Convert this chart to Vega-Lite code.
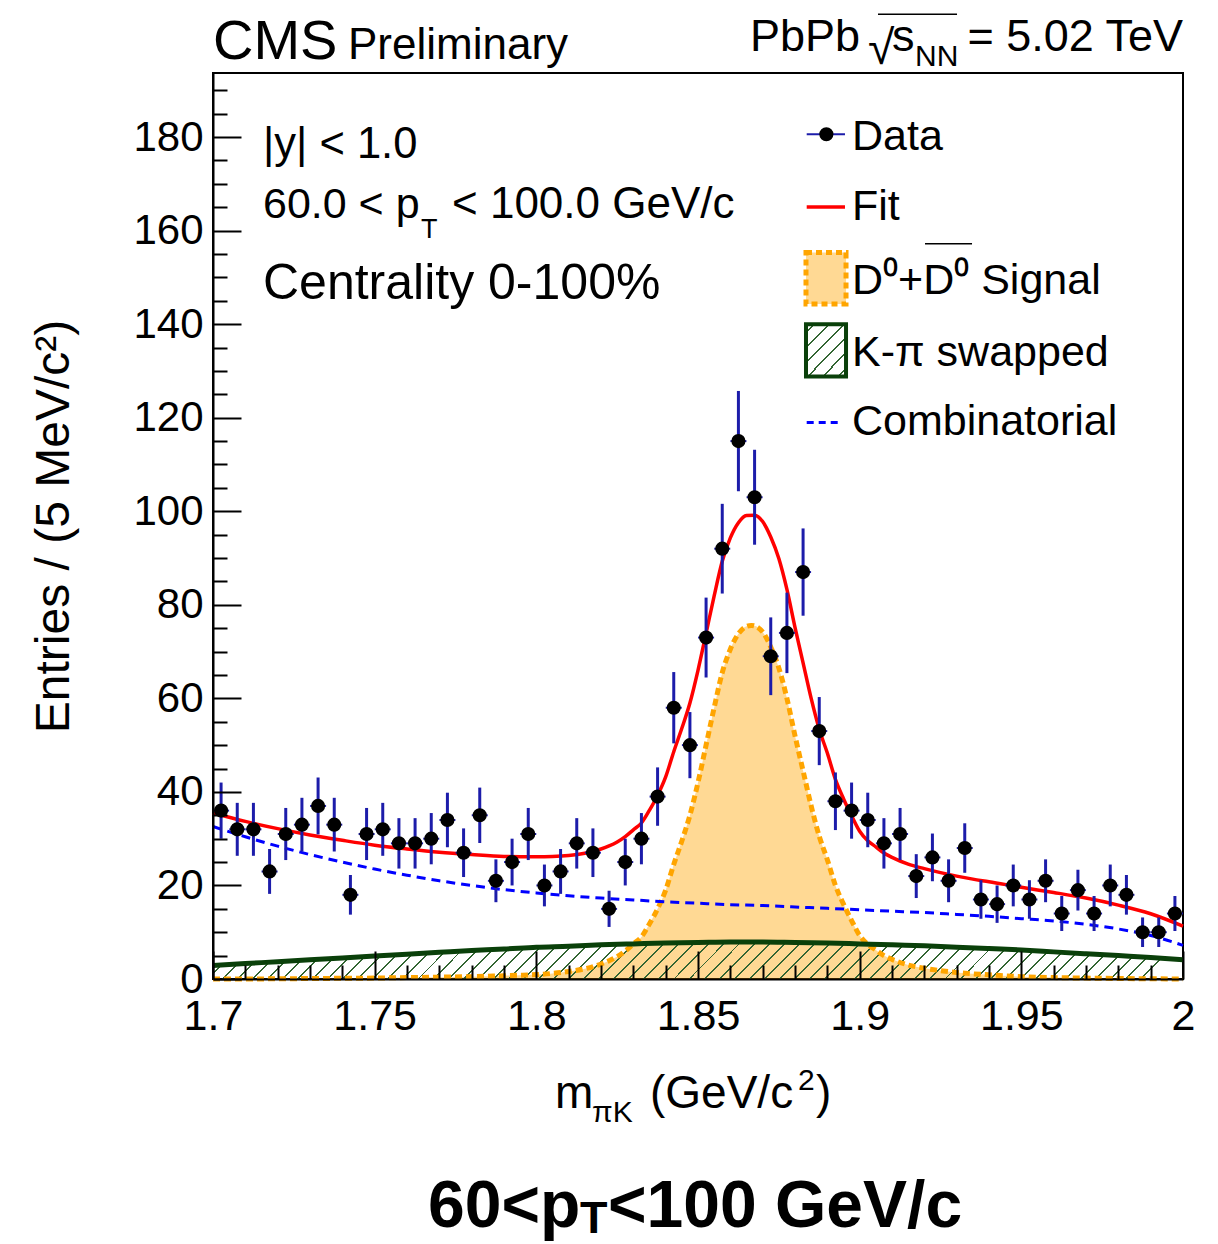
{
"$schema": "https://vega.github.io/schema/vega-lite/v6.json",
"width": 970, "height": 906,
"autosize": "none",
"padding": {"left": 213, "top": 73, "right": 35, "bottom": 265},
"background": "white",
"config": {"view": {"stroke": "black", "strokeWidth": 2}, "font": "Liberation Sans", "text": {"font": "Liberation Sans", "color": "black"}},
"resolve": {"axis": {"x": "independent", "y": "independent"}},
"datasets": {
"pts": [
{"m":1.7025,"n":36,"lo":30,"hi":42},{"m":1.7075,"n":32,"lo":26.34,"hi":37.66},{"m":1.7125,"n":32,"lo":26.34,"hi":37.66},{"m":1.7175,"n":23,"lo":18.2,"hi":27.8},{"m":1.7225,"n":31,"lo":25.43,"hi":36.57},{"m":1.7275,"n":33,"lo":27.26,"hi":38.74},{"m":1.7325,"n":37,"lo":30.92,"hi":43.08},{"m":1.7375,"n":33,"lo":27.26,"hi":38.74},{"m":1.7425,"n":18,"lo":13.76,"hi":22.24},{"m":1.7475,"n":31,"lo":25.43,"hi":36.57},
{"m":1.7525,"n":32,"lo":26.34,"hi":37.66},{"m":1.7575,"n":29,"lo":23.61,"hi":34.39},{"m":1.7625,"n":29,"lo":23.61,"hi":34.39},{"m":1.7675,"n":30,"lo":24.52,"hi":35.48},{"m":1.7725,"n":34,"lo":28.17,"hi":39.83},{"m":1.7775,"n":27,"lo":21.8,"hi":32.2},{"m":1.7825,"n":35,"lo":29.08,"hi":40.92},{"m":1.7875,"n":21,"lo":16.42,"hi":25.58},{"m":1.7925,"n":25,"lo":20,"hi":30},{"m":1.7975,"n":31,"lo":25.43,"hi":36.57},
{"m":1.8025,"n":20,"lo":15.53,"hi":24.47},{"m":1.8075,"n":23,"lo":18.2,"hi":27.8},{"m":1.8125,"n":29,"lo":23.61,"hi":34.39},{"m":1.8175,"n":27,"lo":21.8,"hi":32.2},{"m":1.8225,"n":15,"lo":11.13,"hi":18.87},{"m":1.8275,"n":25,"lo":20,"hi":30},{"m":1.8325,"n":30,"lo":24.52,"hi":35.48},{"m":1.8375,"n":39,"lo":32.76,"hi":45.24},{"m":1.8425,"n":58,"lo":50.38,"hi":65.62},{"m":1.8475,"n":50,"lo":42.93,"hi":57.07},
{"m":1.8525,"n":73,"lo":64.46,"hi":81.54},{"m":1.8575,"n":92,"lo":82.41,"hi":101.59},{"m":1.8625,"n":115,"lo":104.28,"hi":125.72},{"m":1.8675,"n":103,"lo":92.85,"hi":113.15},{"m":1.8725,"n":69,"lo":60.69,"hi":77.31},{"m":1.8775,"n":74,"lo":65.4,"hi":82.6},{"m":1.8825,"n":87,"lo":77.67,"hi":96.33},{"m":1.8875,"n":53,"lo":45.72,"hi":60.28},{"m":1.8925,"n":38,"lo":31.84,"hi":44.16},{"m":1.8975,"n":36,"lo":30,"hi":42},
{"m":1.9025,"n":34,"lo":28.17,"hi":39.83},{"m":1.9075,"n":29,"lo":23.61,"hi":34.39},{"m":1.9125,"n":31,"lo":25.43,"hi":36.57},{"m":1.9175,"n":22,"lo":17.31,"hi":26.69},{"m":1.9225,"n":26,"lo":20.9,"hi":31.1},{"m":1.9275,"n":21,"lo":16.42,"hi":25.58},{"m":1.9325,"n":28,"lo":22.71,"hi":33.29},{"m":1.9375,"n":17,"lo":12.88,"hi":21.12},{"m":1.9425,"n":16,"lo":12,"hi":20},{"m":1.9475,"n":20,"lo":15.53,"hi":24.47},
{"m":1.9525,"n":17,"lo":12.88,"hi":21.12},{"m":1.9575,"n":21,"lo":16.42,"hi":25.58},{"m":1.9625,"n":14,"lo":10.26,"hi":17.74},{"m":1.9675,"n":19,"lo":14.64,"hi":23.36},{"m":1.9725,"n":14,"lo":10.26,"hi":17.74},{"m":1.9775,"n":20,"lo":15.53,"hi":24.47},{"m":1.9825,"n":18,"lo":13.76,"hi":22.24},{"m":1.9875,"n":10,"lo":6.84,"hi":13.16},{"m":1.9925,"n":10,"lo":6.84,"hi":13.16},{"m":1.9975,"n":14,"lo":10.26,"hi":17.74}
],
"comb": [
{"m":1.70,"v":32.6},{"m":1.71,"v":30.4},{"m":1.72,"v":28.4},{"m":1.73,"v":26.6},{"m":1.74,"v":25.0},{"m":1.75,"v":23.5},{"m":1.76,"v":22.2},{"m":1.77,"v":21.0},{"m":1.78,"v":20.0},{"m":1.79,"v":19.1},{"m":1.80,"v":18.4},{"m":1.81,"v":17.8},{"m":1.82,"v":17.3},{"m":1.83,"v":16.9},{"m":1.84,"v":16.5},{"m":1.85,"v":16.2},{"m":1.86,"v":15.9},{"m":1.87,"v":15.7},{"m":1.88,"v":15.4},{"m":1.89,"v":15.1},{"m":1.90,"v":14.8},{"m":1.91,"v":14.5},{"m":1.92,"v":14.2},{"m":1.93,"v":13.8},{"m":1.94,"v":13.4},{"m":1.95,"v":12.9},{"m":1.96,"v":12.4},{"m":1.97,"v":11.7},{"m":1.98,"v":10.7},{"m":1.99,"v":9.3},{"m":2.00,"v":7.2}
],
"swap": [
{"m":1.70,"v":2.9},{"m":1.71,"v":3.3},{"m":1.72,"v":3.7},{"m":1.73,"v":4.1},{"m":1.74,"v":4.5},{"m":1.75,"v":4.9},{"m":1.76,"v":5.3},{"m":1.77,"v":5.7},{"m":1.78,"v":6.1},{"m":1.79,"v":6.4},{"m":1.80,"v":6.8},{"m":1.81,"v":7.0},{"m":1.82,"v":7.3},{"m":1.83,"v":7.5},{"m":1.84,"v":7.7},{"m":1.85,"v":7.8},{"m":1.86,"v":7.9},{"m":1.87,"v":7.9},{"m":1.88,"v":7.8},{"m":1.89,"v":7.7},{"m":1.90,"v":7.5},{"m":1.91,"v":7.3},{"m":1.92,"v":7.1},{"m":1.93,"v":6.8},{"m":1.94,"v":6.5},{"m":1.95,"v":6.2},{"m":1.96,"v":5.8},{"m":1.97,"v":5.4},{"m":1.98,"v":5.0},{"m":1.99,"v":4.6},{"m":2.00,"v":4.1}
],
"sig": [
{"m":1.70,"v":0},{"m":1.71,"v":0},{"m":1.72,"v":0.05},{"m":1.73,"v":0.1},{"m":1.74,"v":0.15},{"m":1.75,"v":0.2},{"m":1.76,"v":0.3},{"m":1.77,"v":0.4},{"m":1.78,"v":0.5},{"m":1.79,"v":0.7},{"m":1.795,"v":0.8},{"m":1.80,"v":0.95},{"m":1.805,"v":1.2},{"m":1.81,"v":1.6},{"m":1.815,"v":2.2},{"m":1.82,"v":3.2},{"m":1.8225,"v":3.9},{"m":1.825,"v":4.8},{"m":1.8275,"v":6.0},{"m":1.83,"v":7.5},{"m":1.8325,"v":9.0},{"m":1.835,"v":11.8},{"m":1.8375,"v":15.0},{"m":1.84,"v":19.0},{"m":1.8425,"v":24.5},{"m":1.845,"v":29.5},{"m":1.8475,"v":35},{"m":1.85,"v":42},{"m":1.8525,"v":50},{"m":1.855,"v":58},{"m":1.8575,"v":65.5},{"m":1.86,"v":70.5},{"m":1.8625,"v":73.8},{"m":1.865,"v":75.4},{"m":1.8665,"v":75.6},{"m":1.8675,"v":75.5},{"m":1.87,"v":74.2},{"m":1.8725,"v":71},{"m":1.875,"v":66.5},{"m":1.8775,"v":60},{"m":1.88,"v":52},{"m":1.8825,"v":44.5},{"m":1.885,"v":37},{"m":1.8875,"v":30.5},{"m":1.89,"v":25.5},{"m":1.8925,"v":20},{"m":1.895,"v":16},{"m":1.8975,"v":12.5},{"m":1.90,"v":9.3},{"m":1.9025,"v":7.4},{"m":1.905,"v":6.2},{"m":1.9075,"v":5.0},{"m":1.91,"v":4.2},{"m":1.915,"v":3.0},{"m":1.92,"v":2.3},{"m":1.925,"v":1.8},{"m":1.93,"v":1.4},{"m":1.935,"v":1.1},{"m":1.94,"v":0.9},{"m":1.95,"v":0.5},{"m":1.96,"v":0.3},{"m":1.97,"v":0.2},{"m":1.98,"v":0.1},{"m":1.99,"v":0.05},{"m":2.00,"v":0}
],
"fit": [
{"m":1.70,"v":35.5},{"m":1.71,"v":33.7},{"m":1.72,"v":32.15},{"m":1.73,"v":30.8},{"m":1.74,"v":29.65},{"m":1.75,"v":28.6},{"m":1.76,"v":27.8},{"m":1.77,"v":27.1},{"m":1.78,"v":26.6},{"m":1.79,"v":26.2},{"m":1.795,"v":26.15},{"m":1.80,"v":26.15},{"m":1.805,"v":26.2},{"m":1.81,"v":26.4},{"m":1.815,"v":26.9},{"m":1.82,"v":27.8},{"m":1.8225,"v":28.45},{"m":1.825,"v":29.3},{"m":1.8275,"v":30.45},{"m":1.83,"v":31.9},{"m":1.8325,"v":33.35},{"m":1.835,"v":36.1},{"m":1.8375,"v":39.25},{"m":1.84,"v":43.2},{"m":1.8425,"v":48.6},{"m":1.845,"v":53.6},{"m":1.8475,"v":59.0},{"m":1.85,"v":66.0},{"m":1.8525,"v":73.9},{"m":1.855,"v":81.9},{"m":1.8575,"v":89.3},{"m":1.86,"v":94.3},{"m":1.8625,"v":97.55},{"m":1.865,"v":99.1},{"m":1.8675,"v":99.15},{"m":1.87,"v":97.8},{"m":1.8725,"v":94.5},{"m":1.875,"v":89.9},{"m":1.8775,"v":83.3},{"m":1.88,"v":75.2},{"m":1.8825,"v":67.6},{"m":1.885,"v":60.0},{"m":1.8875,"v":53.4},{"m":1.89,"v":48.3},{"m":1.8925,"v":42.67},{"m":1.895,"v":38.55},{"m":1.8975,"v":34.92},{"m":1.90,"v":31.6},{"m":1.9025,"v":29.57},{"m":1.905,"v":28.25},{"m":1.9075,"v":26.92},{"m":1.91,"v":26.0},{"m":1.915,"v":24.55},{"m":1.92,"v":23.6},{"m":1.925,"v":22.75},{"m":1.93,"v":22.0},{"m":1.935,"v":21.35},{"m":1.94,"v":20.8},{"m":1.95,"v":19.6},{"m":1.96,"v":18.5},{"m":1.97,"v":17.3},{"m":1.98,"v":15.8},{"m":1.99,"v":13.95},{"m":2.00,"v":11.3}
]
},
"layer": [
{"data": {"name": "sig"}, "mark": {"type": "area", "fill": "#ffa500", "fillOpacity": 0.42, "interpolate": "monotone"},
 "encoding": {
  "x": {"field": "m", "type": "quantitative", "scale": {"domain": [1.7, 2.0], "nice": false, "zero": false},
   "axis": {"orient": "bottom", "values": [1.7,1.75,1.8,1.85,1.9,1.95,2.0],
    "labelExpr": "toString(round(datum.value*100)/100)",
    "tickSize": -28, "labelPadding": 44, "tickColor": "black", "tickWidth": 2, "domainColor": "black", "domainWidth": 2,
    "labelFont": "Liberation Sans", "labelFontSize": 43, "labelColor": "black", "labelFlush": false, "labelOverlap": false,
    "grid": false, "title": null, "zindex": 1}},
  "y": {"field": "v", "type": "quantitative", "scale": {"domain": [0, 193.7], "nice": false, "zero": false},
   "axis": {"orient": "left", "values": [0,20,40,60,80,100,120,140,160,180],
    "tickSize": -28, "labelPadding": 38, "tickColor": "black", "tickWidth": 2, "domainColor": "black", "domainWidth": 2,
    "labelFont": "Liberation Sans", "labelFontSize": 42, "labelColor": "black", "labelOverlap": false,
    "grid": false, "title": "Entries / (5 MeV/c²)", "titleFont": "Liberation Sans", "titleFontSize": 48, "titleFontWeight": "normal", "titleColor": "black", "titlePadding": 54, "zindex": 1}}
 }},
{"data": {"name": "swap"}, "mark": {"type": "area", "interpolate": "monotone", "fill": {"gradient": "linear", "x1": 0, "y1": 0, "x2": 1, "y2": 0.038, "stops": [
{"offset":0,"color":"#336633"},{"offset":0.002,"color":"#336633"},{"offset":0.002,"color":"rgba(255,255,255,0)"},{"offset":0.0155,"color":"rgba(255,255,255,0)"},
{"offset":0.0155,"color":"#336633"},{"offset":0.0175,"color":"#336633"},{"offset":0.0175,"color":"rgba(255,255,255,0)"},{"offset":0.031,"color":"rgba(255,255,255,0)"},
{"offset":0.031,"color":"#336633"},{"offset":0.033,"color":"#336633"},{"offset":0.033,"color":"rgba(255,255,255,0)"},{"offset":0.0465,"color":"rgba(255,255,255,0)"},
{"offset":0.0465,"color":"#336633"},{"offset":0.0485,"color":"#336633"},{"offset":0.0485,"color":"rgba(255,255,255,0)"},{"offset":0.062,"color":"rgba(255,255,255,0)"},
{"offset":0.062,"color":"#336633"},{"offset":0.064,"color":"#336633"},{"offset":0.064,"color":"rgba(255,255,255,0)"},{"offset":0.0775,"color":"rgba(255,255,255,0)"},
{"offset":0.0775,"color":"#336633"},{"offset":0.0795,"color":"#336633"},{"offset":0.0795,"color":"rgba(255,255,255,0)"},{"offset":0.093,"color":"rgba(255,255,255,0)"},
{"offset":0.093,"color":"#336633"},{"offset":0.095,"color":"#336633"},{"offset":0.095,"color":"rgba(255,255,255,0)"},{"offset":0.1085,"color":"rgba(255,255,255,0)"},
{"offset":0.1085,"color":"#336633"},{"offset":0.1105,"color":"#336633"},{"offset":0.1105,"color":"rgba(255,255,255,0)"},{"offset":0.124,"color":"rgba(255,255,255,0)"},
{"offset":0.124,"color":"#336633"},{"offset":0.126,"color":"#336633"},{"offset":0.126,"color":"rgba(255,255,255,0)"},{"offset":0.1395,"color":"rgba(255,255,255,0)"},
{"offset":0.1395,"color":"#336633"},{"offset":0.1415,"color":"#336633"},{"offset":0.1415,"color":"rgba(255,255,255,0)"},{"offset":0.155,"color":"rgba(255,255,255,0)"},
{"offset":0.155,"color":"#336633"},{"offset":0.157,"color":"#336633"},{"offset":0.157,"color":"rgba(255,255,255,0)"},{"offset":0.1705,"color":"rgba(255,255,255,0)"},
{"offset":0.1705,"color":"#336633"},{"offset":0.1725,"color":"#336633"},{"offset":0.1725,"color":"rgba(255,255,255,0)"},{"offset":0.186,"color":"rgba(255,255,255,0)"},
{"offset":0.186,"color":"#336633"},{"offset":0.188,"color":"#336633"},{"offset":0.188,"color":"rgba(255,255,255,0)"},{"offset":0.2015,"color":"rgba(255,255,255,0)"},
{"offset":0.2015,"color":"#336633"},{"offset":0.2035,"color":"#336633"},{"offset":0.2035,"color":"rgba(255,255,255,0)"},{"offset":0.217,"color":"rgba(255,255,255,0)"},
{"offset":0.217,"color":"#336633"},{"offset":0.219,"color":"#336633"},{"offset":0.219,"color":"rgba(255,255,255,0)"},{"offset":0.2325,"color":"rgba(255,255,255,0)"},
{"offset":0.2325,"color":"#336633"},{"offset":0.2345,"color":"#336633"},{"offset":0.2345,"color":"rgba(255,255,255,0)"},{"offset":0.248,"color":"rgba(255,255,255,0)"},
{"offset":0.248,"color":"#336633"},{"offset":0.25,"color":"#336633"},{"offset":0.25,"color":"rgba(255,255,255,0)"},{"offset":0.2635,"color":"rgba(255,255,255,0)"},
{"offset":0.2635,"color":"#336633"},{"offset":0.2655,"color":"#336633"},{"offset":0.2655,"color":"rgba(255,255,255,0)"},{"offset":0.279,"color":"rgba(255,255,255,0)"},
{"offset":0.279,"color":"#336633"},{"offset":0.281,"color":"#336633"},{"offset":0.281,"color":"rgba(255,255,255,0)"},{"offset":0.2945,"color":"rgba(255,255,255,0)"},
{"offset":0.2945,"color":"#336633"},{"offset":0.2965,"color":"#336633"},{"offset":0.2965,"color":"rgba(255,255,255,0)"},{"offset":0.31,"color":"rgba(255,255,255,0)"},
{"offset":0.31,"color":"#336633"},{"offset":0.312,"color":"#336633"},{"offset":0.312,"color":"rgba(255,255,255,0)"},{"offset":0.3255,"color":"rgba(255,255,255,0)"},
{"offset":0.3255,"color":"#336633"},{"offset":0.3275,"color":"#336633"},{"offset":0.3275,"color":"rgba(255,255,255,0)"},{"offset":0.341,"color":"rgba(255,255,255,0)"},
{"offset":0.341,"color":"#336633"},{"offset":0.343,"color":"#336633"},{"offset":0.343,"color":"rgba(255,255,255,0)"},{"offset":0.3565,"color":"rgba(255,255,255,0)"},
{"offset":0.3565,"color":"#336633"},{"offset":0.3585,"color":"#336633"},{"offset":0.3585,"color":"rgba(255,255,255,0)"},{"offset":0.372,"color":"rgba(255,255,255,0)"},
{"offset":0.372,"color":"#336633"},{"offset":0.374,"color":"#336633"},{"offset":0.374,"color":"rgba(255,255,255,0)"},{"offset":0.3875,"color":"rgba(255,255,255,0)"},
{"offset":0.3875,"color":"#336633"},{"offset":0.3895,"color":"#336633"},{"offset":0.3895,"color":"rgba(255,255,255,0)"},{"offset":0.403,"color":"rgba(255,255,255,0)"},
{"offset":0.403,"color":"#336633"},{"offset":0.405,"color":"#336633"},{"offset":0.405,"color":"rgba(255,255,255,0)"},{"offset":0.4185,"color":"rgba(255,255,255,0)"},
{"offset":0.4185,"color":"#336633"},{"offset":0.4205,"color":"#336633"},{"offset":0.4205,"color":"rgba(255,255,255,0)"},{"offset":0.434,"color":"rgba(255,255,255,0)"},
{"offset":0.434,"color":"#336633"},{"offset":0.436,"color":"#336633"},{"offset":0.436,"color":"rgba(255,255,255,0)"},{"offset":0.4495,"color":"rgba(255,255,255,0)"},
{"offset":0.4495,"color":"#336633"},{"offset":0.4515,"color":"#336633"},{"offset":0.4515,"color":"rgba(255,255,255,0)"},{"offset":0.465,"color":"rgba(255,255,255,0)"},
{"offset":0.465,"color":"#336633"},{"offset":0.467,"color":"#336633"},{"offset":0.467,"color":"rgba(255,255,255,0)"},{"offset":0.4805,"color":"rgba(255,255,255,0)"},
{"offset":0.4805,"color":"#336633"},{"offset":0.4825,"color":"#336633"},{"offset":0.4825,"color":"rgba(255,255,255,0)"},{"offset":0.496,"color":"rgba(255,255,255,0)"},
{"offset":0.496,"color":"#336633"},{"offset":0.498,"color":"#336633"},{"offset":0.498,"color":"rgba(255,255,255,0)"},{"offset":0.5115,"color":"rgba(255,255,255,0)"},
{"offset":0.5115,"color":"#336633"},{"offset":0.5135,"color":"#336633"},{"offset":0.5135,"color":"rgba(255,255,255,0)"},{"offset":0.527,"color":"rgba(255,255,255,0)"},
{"offset":0.527,"color":"#336633"},{"offset":0.529,"color":"#336633"},{"offset":0.529,"color":"rgba(255,255,255,0)"},{"offset":0.5425,"color":"rgba(255,255,255,0)"},
{"offset":0.5425,"color":"#336633"},{"offset":0.5445,"color":"#336633"},{"offset":0.5445,"color":"rgba(255,255,255,0)"},{"offset":0.558,"color":"rgba(255,255,255,0)"},
{"offset":0.558,"color":"#336633"},{"offset":0.56,"color":"#336633"},{"offset":0.56,"color":"rgba(255,255,255,0)"},{"offset":0.5735,"color":"rgba(255,255,255,0)"},
{"offset":0.5735,"color":"#336633"},{"offset":0.5755,"color":"#336633"},{"offset":0.5755,"color":"rgba(255,255,255,0)"},{"offset":0.589,"color":"rgba(255,255,255,0)"},
{"offset":0.589,"color":"#336633"},{"offset":0.591,"color":"#336633"},{"offset":0.591,"color":"rgba(255,255,255,0)"},{"offset":0.6045,"color":"rgba(255,255,255,0)"},
{"offset":0.6045,"color":"#336633"},{"offset":0.6065,"color":"#336633"},{"offset":0.6065,"color":"rgba(255,255,255,0)"},{"offset":0.62,"color":"rgba(255,255,255,0)"},
{"offset":0.62,"color":"#336633"},{"offset":0.622,"color":"#336633"},{"offset":0.622,"color":"rgba(255,255,255,0)"},{"offset":0.6355,"color":"rgba(255,255,255,0)"},
{"offset":0.6355,"color":"#336633"},{"offset":0.6375,"color":"#336633"},{"offset":0.6375,"color":"rgba(255,255,255,0)"},{"offset":0.651,"color":"rgba(255,255,255,0)"},
{"offset":0.651,"color":"#336633"},{"offset":0.653,"color":"#336633"},{"offset":0.653,"color":"rgba(255,255,255,0)"},{"offset":0.6665,"color":"rgba(255,255,255,0)"},
{"offset":0.6665,"color":"#336633"},{"offset":0.6685,"color":"#336633"},{"offset":0.6685,"color":"rgba(255,255,255,0)"},{"offset":0.682,"color":"rgba(255,255,255,0)"},
{"offset":0.682,"color":"#336633"},{"offset":0.684,"color":"#336633"},{"offset":0.684,"color":"rgba(255,255,255,0)"},{"offset":0.6975,"color":"rgba(255,255,255,0)"},
{"offset":0.6975,"color":"#336633"},{"offset":0.6995,"color":"#336633"},{"offset":0.6995,"color":"rgba(255,255,255,0)"},{"offset":0.713,"color":"rgba(255,255,255,0)"},
{"offset":0.713,"color":"#336633"},{"offset":0.715,"color":"#336633"},{"offset":0.715,"color":"rgba(255,255,255,0)"},{"offset":0.7285,"color":"rgba(255,255,255,0)"},
{"offset":0.7285,"color":"#336633"},{"offset":0.7305,"color":"#336633"},{"offset":0.7305,"color":"rgba(255,255,255,0)"},{"offset":0.744,"color":"rgba(255,255,255,0)"},
{"offset":0.744,"color":"#336633"},{"offset":0.746,"color":"#336633"},{"offset":0.746,"color":"rgba(255,255,255,0)"},{"offset":0.7595,"color":"rgba(255,255,255,0)"},
{"offset":0.7595,"color":"#336633"},{"offset":0.7615,"color":"#336633"},{"offset":0.7615,"color":"rgba(255,255,255,0)"},{"offset":0.775,"color":"rgba(255,255,255,0)"},
{"offset":0.775,"color":"#336633"},{"offset":0.777,"color":"#336633"},{"offset":0.777,"color":"rgba(255,255,255,0)"},{"offset":0.7905,"color":"rgba(255,255,255,0)"},
{"offset":0.7905,"color":"#336633"},{"offset":0.7925,"color":"#336633"},{"offset":0.7925,"color":"rgba(255,255,255,0)"},{"offset":0.806,"color":"rgba(255,255,255,0)"},
{"offset":0.806,"color":"#336633"},{"offset":0.808,"color":"#336633"},{"offset":0.808,"color":"rgba(255,255,255,0)"},{"offset":0.8215,"color":"rgba(255,255,255,0)"},
{"offset":0.8215,"color":"#336633"},{"offset":0.8235,"color":"#336633"},{"offset":0.8235,"color":"rgba(255,255,255,0)"},{"offset":0.837,"color":"rgba(255,255,255,0)"},
{"offset":0.837,"color":"#336633"},{"offset":0.839,"color":"#336633"},{"offset":0.839,"color":"rgba(255,255,255,0)"},{"offset":0.8525,"color":"rgba(255,255,255,0)"},
{"offset":0.8525,"color":"#336633"},{"offset":0.8545,"color":"#336633"},{"offset":0.8545,"color":"rgba(255,255,255,0)"},{"offset":0.868,"color":"rgba(255,255,255,0)"},
{"offset":0.868,"color":"#336633"},{"offset":0.87,"color":"#336633"},{"offset":0.87,"color":"rgba(255,255,255,0)"},{"offset":0.8835,"color":"rgba(255,255,255,0)"},
{"offset":0.8835,"color":"#336633"},{"offset":0.8855,"color":"#336633"},{"offset":0.8855,"color":"rgba(255,255,255,0)"},{"offset":0.899,"color":"rgba(255,255,255,0)"},
{"offset":0.899,"color":"#336633"},{"offset":0.901,"color":"#336633"},{"offset":0.901,"color":"rgba(255,255,255,0)"},{"offset":0.9145,"color":"rgba(255,255,255,0)"},
{"offset":0.9145,"color":"#336633"},{"offset":0.9165,"color":"#336633"},{"offset":0.9165,"color":"rgba(255,255,255,0)"},{"offset":0.93,"color":"rgba(255,255,255,0)"},
{"offset":0.93,"color":"#336633"},{"offset":0.932,"color":"#336633"},{"offset":0.932,"color":"rgba(255,255,255,0)"},{"offset":0.9455,"color":"rgba(255,255,255,0)"},
{"offset":0.9455,"color":"#336633"},{"offset":0.9475,"color":"#336633"},{"offset":0.9475,"color":"rgba(255,255,255,0)"},{"offset":0.961,"color":"rgba(255,255,255,0)"},
{"offset":0.961,"color":"#336633"},{"offset":0.963,"color":"#336633"},{"offset":0.963,"color":"rgba(255,255,255,0)"},{"offset":0.9765,"color":"rgba(255,255,255,0)"},
{"offset":0.9765,"color":"#336633"},{"offset":0.9785,"color":"#336633"},{"offset":0.9785,"color":"rgba(255,255,255,0)"},{"offset":0.992,"color":"rgba(255,255,255,0)"},
{"offset":0.992,"color":"#336633"},{"offset":0.994,"color":"#336633"},{"offset":0.994,"color":"rgba(255,255,255,0)"},{"offset":1,"color":"rgba(255,255,255,0)"}
]}},
 "encoding": {"x": {"field": "m", "type": "quantitative",
   "axis": {"orient": "bottom", "values": [1.71,1.72,1.73,1.74,1.76,1.77,1.78,1.79,1.81,1.82,1.83,1.84,1.86,1.87,1.88,1.89,1.91,1.92,1.93,1.94,1.96,1.97,1.98,1.99], "tickSize": -14, "tickWidth": 2, "tickColor": "black", "labels": false, "domain": false, "grid": false, "title": null, "zindex": 1}},
  "y": {"field": "v", "type": "quantitative",
   "axis": {"orient": "left", "values": [5,10,15,25,30,35,45,50,55,65,70,75,85,90,95,105,110,115,125,130,135,145,150,155,165,170,175,185,190], "tickSize": -14, "tickWidth": 2, "tickColor": "black", "labels": false, "domain": false, "grid": false, "title": null, "zindex": 1}}}},
{"data": {"name": "sig"}, "mark": {"type": "line", "stroke": "#ffa500", "strokeWidth": 5, "strokeDash": [7, 4], "interpolate": "monotone"},
 "encoding": {"x": {"field": "m", "type": "quantitative", "axis": null}, "y": {"field": "v", "type": "quantitative", "axis": null}}},
{"data": {"name": "swap"}, "mark": {"type": "line", "stroke": "#0a400a", "strokeWidth": 5, "interpolate": "monotone"},
 "encoding": {"x": {"field": "m", "type": "quantitative", "axis": null}, "y": {"field": "v", "type": "quantitative", "axis": null}}},
{"data": {"name": "comb"}, "mark": {"type": "line", "stroke": "#0000ff", "strokeWidth": 3, "strokeDash": [9, 6], "interpolate": "monotone"},
 "encoding": {"x": {"field": "m", "type": "quantitative", "axis": null}, "y": {"field": "v", "type": "quantitative", "axis": null}}},
{"data": {"name": "fit"}, "mark": {"type": "line", "stroke": "#ff0000", "strokeWidth": 3.5, "interpolate": "monotone"},
 "encoding": {"x": {"field": "m", "type": "quantitative", "axis": null}, "y": {"field": "v", "type": "quantitative", "axis": null}}},
{"data": {"name": "pts"}, "mark": {"type": "rule", "stroke": "#1c1caa", "strokeWidth": 3},
 "encoding": {"x": {"field": "m", "type": "quantitative", "axis": null}, "y": {"field": "lo", "type": "quantitative", "axis": null}, "y2": {"field": "hi"}}},
{"data": {"name": "pts"}, "mark": {"type": "tick", "orient": "horizontal", "color": "#1c1caa", "size": 16, "thickness": 2, "opacity": 1},
 "encoding": {"x": {"field": "m", "type": "quantitative", "axis": null}, "y": {"field": "n", "type": "quantitative", "axis": null}}},
{"data": {"name": "pts"}, "mark": {"type": "point", "shape": "circle", "filled": true, "color": "black", "size": 200, "opacity": 1},
 "encoding": {"x": {"field": "m", "type": "quantitative", "axis": null}, "y": {"field": "n", "type": "quantitative", "axis": null}}},

{"data": {"values": [{}]}, "mark": {"type": "text", "text": "CMS", "fontSize": 56, "align": "left", "baseline": "alphabetic"},
 "encoding": {"x": {"datum": 1.7, "type": "quantitative", "axis": null}, "y": {"datum": 196.67, "type": "quantitative", "axis": null}}},
{"data": {"values": [{}]}, "mark": {"type": "text", "text": "Preliminary", "fontSize": 44, "align": "left", "baseline": "alphabetic"},
 "encoding": {"x": {"datum": 1.74175, "type": "quantitative", "axis": null}, "y": {"datum": 196.67, "type": "quantitative", "axis": null}}},
{"data": {"values": [{}]}, "mark": {"type": "text", "text": "PbPb", "fontSize": 45, "align": "left", "baseline": "alphabetic"},
 "encoding": {"x": {"datum": 1.86608, "type": "quantitative", "axis": null}, "y": {"datum": 198.38, "type": "quantitative", "axis": null}}},
{"data": {"values": [{}]}, "mark": {"type": "text", "text": "√", "fontSize": 48, "align": "left", "baseline": "alphabetic"},
 "encoding": {"x": {"datum": 1.90258, "type": "quantitative", "axis": null}, "y": {"datum": 195.6, "type": "quantitative", "axis": null}}},
{"data": {"values": [{}]}, "mark": {"type": "text", "text": "s", "fontSize": 45, "align": "left", "baseline": "alphabetic"},
 "encoding": {"x": {"datum": 1.91, "type": "quantitative", "axis": null}, "y": {"datum": 198.38, "type": "quantitative", "axis": null}}},
{"data": {"values": [{}]}, "mark": {"type": "text", "text": "NN", "fontSize": 30, "align": "left", "baseline": "alphabetic"},
 "encoding": {"x": {"datum": 1.91712, "type": "quantitative", "axis": null}, "y": {"datum": 195.2, "type": "quantitative", "axis": null}}},
{"data": {"values": [{}]}, "mark": {"type": "rule", "stroke": "black", "strokeWidth": 1.5},
 "encoding": {"x": {"datum": 1.90567, "type": "quantitative", "axis": null}, "x2": {"datum": 1.93011}, "y": {"datum": 206.28, "type": "quantitative", "axis": null}}},
{"data": {"values": [{}]}, "mark": {"type": "text", "text": "= 5.02 TeV", "fontSize": 45, "align": "right", "baseline": "alphabetic"},
 "encoding": {"x": {"datum": 2.0, "type": "quantitative", "axis": null}, "y": {"datum": 198.38, "type": "quantitative", "axis": null}}},

{"data": {"values": [{}]}, "mark": {"type": "text", "text": "|y| < 1.0", "fontSize": 43.5, "align": "left", "baseline": "alphabetic"},
 "encoding": {"x": {"datum": 1.71546, "type": "quantitative", "axis": null}, "y": {"datum": 175.53, "type": "quantitative", "axis": null}}},
{"data": {"values": [{}]}, "mark": {"type": "text", "text": "60.0 < p", "fontSize": 43, "align": "left", "baseline": "alphabetic"},
 "encoding": {"x": {"datum": 1.71546, "type": "quantitative", "axis": null}, "y": {"datum": 162.72, "type": "quantitative", "axis": null}}},
{"data": {"values": [{}]}, "mark": {"type": "text", "text": "T", "fontSize": 27, "align": "left", "baseline": "alphabetic"},
 "encoding": {"x": {"datum": 1.76433, "type": "quantitative", "axis": null}, "y": {"datum": 158.45, "type": "quantitative", "axis": null}}},
{"data": {"values": [{}]}, "mark": {"type": "text", "text": "< 100.0 GeV/c", "fontSize": 44, "align": "left", "baseline": "alphabetic"},
 "encoding": {"x": {"datum": 1.77392, "type": "quantitative", "axis": null}, "y": {"datum": 162.72, "type": "quantitative", "axis": null}}},
{"data": {"values": [{}]}, "mark": {"type": "text", "text": "Centrality 0-100%", "fontSize": 50, "align": "left", "baseline": "alphabetic"},
 "encoding": {"x": {"datum": 1.71546, "type": "quantitative", "axis": null}, "y": {"datum": 145.3, "type": "quantitative", "axis": null}}},

{"data": {"values": [{}]}, "mark": {"type": "rule", "stroke": "#1c1caa", "strokeWidth": 2},
 "encoding": {"x": {"datum": 1.88362, "type": "quantitative", "axis": null}, "x2": {"datum": 1.89546}, "y": {"datum": 180.6, "type": "quantitative", "axis": null}}},
{"data": {"values": [{}]}, "mark": {"type": "point", "shape": "circle", "filled": true, "color": "black", "size": 200, "opacity": 1},
 "encoding": {"x": {"datum": 1.8897, "type": "quantitative", "axis": null}, "y": {"datum": 180.6, "type": "quantitative", "axis": null}}},
{"data": {"values": [{}]}, "mark": {"type": "rule", "stroke": "#ff0000", "strokeWidth": 3.5},
 "encoding": {"x": {"datum": 1.88362, "type": "quantitative", "axis": null}, "x2": {"datum": 1.89546}, "y": {"datum": 165.06, "type": "quantitative", "axis": null}}},
{"data": {"values": [{}]}, "mark": {"type": "rect", "fill": "#ffa500", "fillOpacity": 0.42, "stroke": "#ffa500", "strokeWidth": 5, "strokeDash": [6, 4]},
 "encoding": {"x": {"datum": 1.8834, "type": "quantitative", "axis": null}, "x2": {"datum": 1.89578}, "y": {"datum": 155.3, "type": "quantitative", "axis": null}, "y2": {"datum": 144.3}}},
{"data": {"values": [{}]}, "mark": {"type": "rect", "stroke": "#0a400a", "strokeWidth": 4, "fill": {"gradient": "linear", "x1": 0, "y1": 0, "x2": 1, "y2": 1.3, "stops": [
{"offset":0.0697,"color":"rgba(255,255,255,0)"},{"offset":0.0697,"color":"#336633"},{"offset":0.0883,"color":"#336633"},{"offset":0.0883,"color":"rgba(255,255,255,0)"},
{"offset":0.2091,"color":"rgba(255,255,255,0)"},{"offset":0.2091,"color":"#336633"},{"offset":0.2277,"color":"#336633"},{"offset":0.2277,"color":"rgba(255,255,255,0)"},
{"offset":0.3485,"color":"rgba(255,255,255,0)"},{"offset":0.3485,"color":"#336633"},{"offset":0.3671,"color":"#336633"},{"offset":0.3671,"color":"rgba(255,255,255,0)"},
{"offset":0.4879,"color":"rgba(255,255,255,0)"},{"offset":0.4879,"color":"#336633"},{"offset":0.5065,"color":"#336633"},{"offset":0.5065,"color":"rgba(255,255,255,0)"},
{"offset":0.6273,"color":"rgba(255,255,255,0)"},{"offset":0.6273,"color":"#336633"},{"offset":0.6459,"color":"#336633"},{"offset":0.6459,"color":"rgba(255,255,255,0)"},
{"offset":0.7667,"color":"rgba(255,255,255,0)"},{"offset":0.7667,"color":"#336633"},{"offset":0.7853,"color":"#336633"},{"offset":0.7853,"color":"rgba(255,255,255,0)"},
{"offset":1,"color":"rgba(255,255,255,0)"}
]}},
 "encoding": {"x": {"datum": 1.8834, "type": "quantitative", "axis": null}, "x2": {"datum": 1.89578}, "y": {"datum": 140.0, "type": "quantitative", "axis": null}, "y2": {"datum": 128.8}}},
{"data": {"values": [{}]}, "mark": {"type": "rule", "stroke": "#0000ff", "strokeWidth": 3, "strokeDash": [7, 5]},
 "encoding": {"x": {"datum": 1.88362, "type": "quantitative", "axis": null}, "x2": {"datum": 1.89443}, "y": {"datum": 119.0, "type": "quantitative", "axis": null}}},
{"data": {"values": [{}]}, "mark": {"type": "text", "text": "Data", "fontSize": 43, "align": "left", "baseline": "alphabetic"},
 "encoding": {"x": {"datum": 1.89763, "type": "quantitative", "axis": null}, "y": {"datum": 177.2, "type": "quantitative", "axis": null}}},
{"data": {"values": [{}]}, "mark": {"type": "text", "text": "Fit", "fontSize": 43, "align": "left", "baseline": "alphabetic"},
 "encoding": {"x": {"datum": 1.89763, "type": "quantitative", "axis": null}, "y": {"datum": 162.2, "type": "quantitative", "axis": null}}},
{"data": {"values": [{}]}, "mark": {"type": "text", "text": "D⁰+D⁰ Signal", "fontSize": 43, "align": "left", "baseline": "alphabetic"},
 "encoding": {"x": {"datum": 1.89763, "type": "quantitative", "axis": null}, "y": {"datum": 146.4, "type": "quantitative", "axis": null}}},
{"data": {"values": [{}]}, "mark": {"type": "rule", "stroke": "black", "strokeWidth": 1.5},
 "encoding": {"x": {"datum": 1.92021, "type": "quantitative", "axis": null}, "x2": {"datum": 1.93475}, "y": {"datum": 157.2, "type": "quantitative", "axis": null}}},
{"data": {"values": [{}]}, "mark": {"type": "text", "text": "K-π swapped", "fontSize": 43, "align": "left", "baseline": "alphabetic"},
 "encoding": {"x": {"datum": 1.89763, "type": "quantitative", "axis": null}, "y": {"datum": 131.1, "type": "quantitative", "axis": null}}},
{"data": {"values": [{}]}, "mark": {"type": "text", "text": "Combinatorial", "fontSize": 43, "align": "left", "baseline": "alphabetic"},
 "encoding": {"x": {"datum": 1.89763, "type": "quantitative", "axis": null}, "y": {"datum": 116.2, "type": "quantitative", "axis": null}}},

{"data": {"values": [{}]}, "mark": {"type": "text", "text": "m", "fontSize": 46, "align": "left", "baseline": "alphabetic"},
 "encoding": {"x": {"datum": 1.80577, "type": "quantitative", "axis": null}, "y": {"datum": -27.55, "type": "quantitative", "axis": null}}},
{"data": {"values": [{}]}, "mark": {"type": "text", "text": "πK", "fontSize": 30, "align": "left", "baseline": "alphabetic"},
 "encoding": {"x": {"datum": 1.81722, "type": "quantitative", "axis": null}, "y": {"datum": -30.54, "type": "quantitative", "axis": null}}},
{"data": {"values": [{}]}, "mark": {"type": "text", "text": "(GeV/c", "fontSize": 46, "align": "left", "baseline": "alphabetic"},
 "encoding": {"x": {"datum": 1.83515, "type": "quantitative", "axis": null}, "y": {"datum": -27.55, "type": "quantitative", "axis": null}}},
{"data": {"values": [{}]}, "mark": {"type": "text", "text": "2", "fontSize": 30, "align": "left", "baseline": "alphabetic"},
 "encoding": {"x": {"datum": 1.88093, "type": "quantitative", "axis": null}, "y": {"datum": -23.7, "type": "quantitative", "axis": null}}},
{"data": {"values": [{}]}, "mark": {"type": "text", "text": ")", "fontSize": 46, "align": "left", "baseline": "alphabetic"},
 "encoding": {"x": {"datum": 1.8865, "type": "quantitative", "axis": null}, "y": {"datum": -27.55, "type": "quantitative", "axis": null}}},

{"data": {"values": [{}]}, "mark": {"type": "text", "text": "60<p", "fontSize": 66, "fontWeight": "bold", "align": "left", "baseline": "alphabetic"},
 "encoding": {"x": {"datum": 1.7665, "type": "quantitative", "axis": null}, "y": {"datum": -52.96, "type": "quantitative", "axis": null}}},
{"data": {"values": [{}]}, "mark": {"type": "text", "text": "T", "fontSize": 45, "fontWeight": "bold", "align": "left", "baseline": "alphabetic"},
 "encoding": {"x": {"datum": 1.81351, "type": "quantitative", "axis": null}, "y": {"datum": -54.24, "type": "quantitative", "axis": null}}},
{"data": {"values": [{}]}, "mark": {"type": "text", "text": "<100 GeV/c", "fontSize": 66, "fontWeight": "bold", "align": "left", "baseline": "alphabetic"},
 "encoding": {"x": {"datum": 1.82217, "type": "quantitative", "axis": null}, "y": {"datum": -52.96, "type": "quantitative", "axis": null}}}
]
}
